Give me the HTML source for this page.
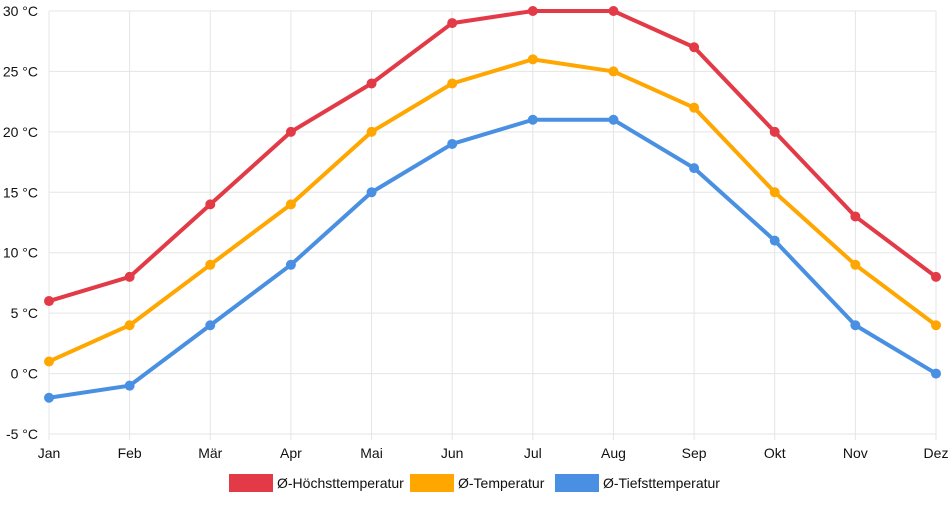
<!DOCTYPE html>
<html><head><meta charset="utf-8"><style>
body{margin:0;background:#fff;font-family:"Liberation Sans",sans-serif;}
svg text{font-family:"Liberation Sans",sans-serif;font-size:14px;fill:#111;}
</style></head><body>
<svg id="chart" width="952" height="500" xmlns="http://www.w3.org/2000/svg">
<g id="grid"></g>
<g id="axes"></g>
<g id="series"></g>
<g id="legend"></g>
</svg>
<script>
const months=["Jan","Feb","Mär","Apr","Mai","Jun","Jul","Aug","Sep","Okt","Nov","Dez"];
const yTicks=[-5,0,5,10,15,20,25,30];
const seriesNames=["Ø-Höchsttemperatur","Ø-Temperatur","Ø-Tiefsttemperatur"];
const highValues=[6,8,14,20,24,29,30,30,27,20,13,8];
const meanValues=[1,4,9,14,20,24,26,25,22,15,9,4];
const lowValues=[-2,-1,4,9,15,19,21,21,17,11,4,0];
const colors=["#e23a46","#ffa600","#4a90e2"];
const NS="http://www.w3.org/2000/svg";
const x0=49,x1=936,yTop=11,yBot=434,vMin=-5,vMax=30;
const xs=i=>x0+i*(x1-x0)/(months.length-1);
const ys=v=>yBot-(v-vMin)*(yBot-yTop)/(vMax-vMin);
function mk(tag,attrs,parent){const e=document.createElementNS(NS,tag);for(const k in attrs)e.setAttribute(k,attrs[k]);parent.appendChild(e);return e;}
const grid=document.getElementById('grid'),axes=document.getElementById('axes'),ser=document.getElementById('series'),leg=document.getElementById('legend');
yTicks.forEach(t=>{
 const l=mk('line',{x1:x0,x2:x1,y1:ys(t),y2:ys(t),stroke:'#e5e5e5','stroke-width':1},grid);
 
 
 const tx=mk('text',{x:38,y:ys(t)+5,'text-anchor':'end'},axes);
 tx.textContent=t+' °C';
 
 
});
months.forEach((m,i)=>{
 const l=mk('line',{x1:xs(i),x2:xs(i),y1:yTop,y2:yBot+6,stroke:'#e5e5e5','stroke-width':1},grid);
 
 
 const tx=mk('text',{x:xs(i),y:458,'text-anchor':'middle'},axes);
 tx.textContent=m;
 
 
});
[highValues,meanValues,lowValues].forEach((vals,s)=>{
 const g=mk('g',{},ser);
 
 
 const p=mk('polyline',{points:vals.map((v,i)=>xs(i)+','+ys(v)).join(' '),fill:'none',stroke:colors[s],'stroke-width':4,'stroke-linejoin':'round'},g);
 
 
 vals.forEach((v,i)=>{
  const c=mk('circle',{cx:xs(i),cy:ys(v),r:5,fill:colors[s]},g);
  
  
 });
});
const legX=[229,410,555];
seriesNames.forEach((n,s)=>{
 const g=mk('g',{},leg);
 
 
 mk('rect',{x:legX[s],y:474,width:44,height:18,fill:colors[s]},g);
 const t=mk('text',{x:legX[s]+48,y:488},g);
 t.textContent=n;
});
</script>
</body></html>
